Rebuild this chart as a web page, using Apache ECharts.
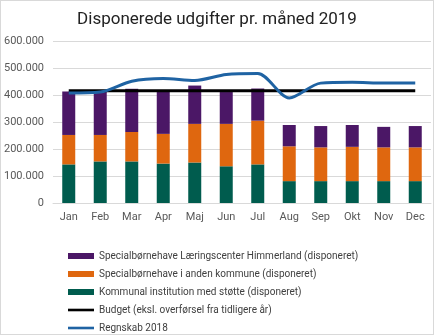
<!DOCTYPE html>
<html><head><meta charset="utf-8">
<script src="https://cdn.jsdelivr.net/npm/echarts@6/dist/echarts.min.js"></script>
<style>html,body{margin:0;padding:0;background:#fff}#c{width:434px;height:335px;box-sizing:border-box;border:1px solid #d9d9d9}</style>
</head><body><div id="c"></div>
<script>
const categories = ['Jan','Feb','Mar','Apr','Maj','Jun','Jul','Aug','Sep','Okt','Nov','Dec'];
const kommunal = [143000,154000,154000,146000,150000,136000,143000,81000,81000,81000,81000,81000];
const andenKommune = [109000,98000,109000,110000,143000,157000,162000,129000,125000,127000,125000,125000];
const himmerland = [161000,161000,160000,159000,142000,118000,119000,79000,79000,81000,76000,79000];
const budget = [416000,416000,416000,416000,416000,416000,416000,416000,416000,416000,416000,416000];
const regnskab2018 = [407000,411000,451000,461000,454000,476000,480000,389000,444000,447000,444000,444000];
const yTicks = [0,100000,200000,300000,400000,500000,600000];

const names = ['Specialbørnehave Læringscenter Himmerland (disponeret)','Specialbørnehave i anden kommune (disponeret)','Kommunal institution med støtte (disponeret)','Budget (eksl. overførsel fra tidligere år)','Regnskab 2018'];
const colors = {purple:'#4B1766', orange:'#DF670F', green:'#005C4E', black:'#000000', blue:'#1F63A3'};
const fmt = v => v===0 ? '0' : String(v).replace(/\B(?=(\d{3})+(?!\d))/g,'.');
const font = 'Roboto, "Liberation Sans", sans-serif';

const chart = echarts.init(document.getElementById('c'));
chart.setOption({
  animation:false,
  textStyle:{fontFamily:font},
  title:{text:'Disponerede udgifter pr. måned 2019',left:'center',top:5,textStyle:{fontFamily:font,fontSize:17,fontWeight:'normal',color:'#222'}},
  grid:{left:50,right:2,top:40,bottom:131},
  legend:{orient:'vertical',left:62,top:245,height:95,itemGap:8,itemWidth:26,itemHeight:6,
    textStyle:{fontFamily:font,fontSize:10,color:'#404040'},
    data:[
      {name:names[0],icon:'rect'},
      {name:names[1],icon:'rect'},
      {name:names[2],icon:'rect'},
      {name:names[3],icon:'path://M0,0L30,0L30,3L0,3Z'},
      {name:names[4],icon:'path://M0,0L30,0L30,3L0,3Z'}
    ]},
  xAxis:{type:'category',data:categories,axisTick:{show:false},
    axisLine:{lineStyle:{color:'#d9d9d9'}},
    axisLabel:{color:'#595959',fontSize:11,margin:9}},
  yAxis:{type:'value',min:0,max:600000,interval:100000,
    axisLine:{show:false},axisTick:{show:false},
    splitLine:{lineStyle:{color:'#d9d9d9'}},
    axisLabel:{color:'#595959',fontSize:11,formatter:fmt,margin:9}},
  series:[
    {name:names[2],type:'bar',stack:'s',data:kommunal,barWidth:13,itemStyle:{color:colors.green}},
    {name:names[1],type:'bar',stack:'s',data:andenKommune,barWidth:13,itemStyle:{color:colors.orange}},
    {name:names[0],type:'bar',stack:'s',data:himmerland,barWidth:13,itemStyle:{color:colors.purple}},
    {name:names[3],type:'line',data:budget,symbol:'none',lineStyle:{color:colors.black,width:3},itemStyle:{color:colors.black}},
    {name:names[4],type:'line',data:regnskab2018,symbol:'none',smooth:0.3,lineStyle:{color:colors.blue,width:3},itemStyle:{color:colors.blue}}
  ]
});
</script></body></html>
